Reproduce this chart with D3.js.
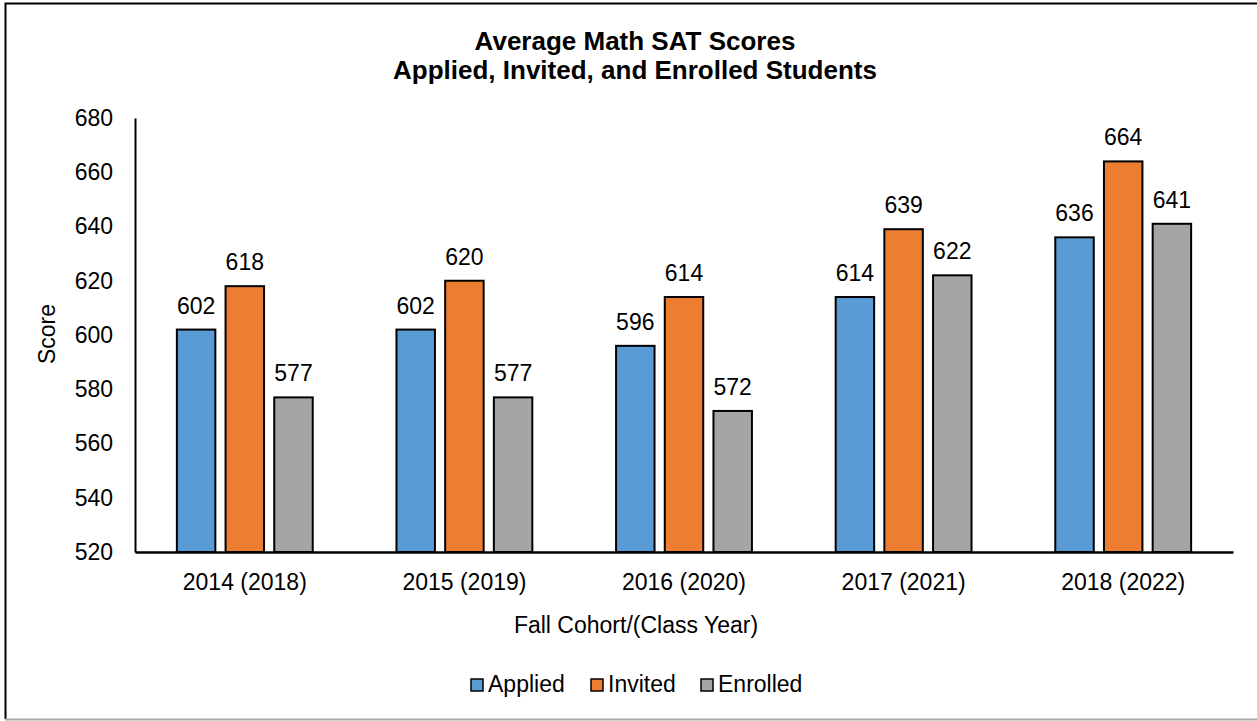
<!DOCTYPE html>
<html>
<head>
<meta charset="utf-8">
<script src="https://cdn.jsdelivr.net/npm/d3@7"></script>
<style>
  body { margin: 0; background: #fff; }
  svg { display: block; font-family: "Liberation Sans", Arial, sans-serif; }
</style>
</head>
<body>
<svg id="chart" width="1257" height="721"></svg>
<script>
const cohorts = ["2014 (2018)", "2015 (2019)", "2016 (2020)", "2017 (2021)", "2018 (2022)"];
const seriesNames = ["Applied", "Invited", "Enrolled"];
const applied = [602, 602, 596, 614, 636];
const invited = [618, 620, 614, 639, 664];
const enrolled = [577, 577, 572, 622, 641];
const yTicks = [520, 540, 560, 580, 600, 620, 640, 660, 680];
const colors = ["#5b9bd5", "#ed7d31", "#a5a5a5"];

const width = 1257, height = 721;
const margin = {top: 118, right: 24, bottom: 169, left: 135};
const innerWidth = width - margin.left - margin.right;
const innerHeight = height - margin.top - margin.bottom;
const fontSize = 23;

const svg = d3.select("#chart");

// outer frame: black top and left, grey bottom, open on the right
svg.append("path")
  .attr("d", `M${width},3.5 H5.5 V719`)
  .attr("fill", "none").attr("stroke", "#000").attr("stroke-width", 2);
svg.append("line")
  .attr("x1", 5).attr("x2", width).attr("y1", 719.5).attr("y2", 719.5)
  .attr("stroke", "#aaa").attr("stroke-width", 2);

const title = svg.append("text")
  .attr("text-anchor", "middle")
  .attr("font-weight", "bold")
  .attr("font-size", 26);
title.append("tspan").attr("x", 635).attr("y", 50).text("Average Math SAT Scores");
title.append("tspan").attr("x", 635).attr("y", 79).text("Applied, Invited, and Enrolled Students");

const g = svg.append("g")
  .attr("transform", `translate(${margin.left}, ${margin.top})`);

const xScale = d3.scaleBand()
  .domain(cohorts)
  .range([0, innerWidth]);

const xInner = d3.scaleBand()
  .domain(seriesNames)
  .range([0, xScale.bandwidth()])
  .paddingInner(0.21)
  .paddingOuter(0.86);

const yScale = d3.scaleLinear()
  .domain([520, 680])
  .range([innerHeight, 0]);

const rows = cohorts.map((c, i) => ({
  cohort: c,
  values: [applied[i], invited[i], enrolled[i]].map((v, j) => ({name: seriesNames[j], value: v, color: colors[j]}))
}));

const groups = g.selectAll(".group")
  .data(rows)
  .enter()
  .append("g")
  .attr("class", "group")
  .attr("transform", d => `translate(${xScale(d.cohort)}, 0)`);

groups.selectAll("rect")
  .data(d => d.values)
  .enter()
  .append("rect")
  .attr("x", d => xInner(d.name))
  .attr("y", d => yScale(d.value))
  .attr("width", xInner.bandwidth())
  .attr("height", d => innerHeight - yScale(d.value))
  .attr("fill", d => d.color)
  .attr("stroke", "#000")
  .attr("stroke-width", 2);

groups.selectAll(".label")
  .data(d => d.values)
  .enter()
  .append("text")
  .attr("class", "label")
  .attr("x", d => xInner(d.name) + xInner.bandwidth() / 2)
  .attr("y", d => yScale(d.value) - 16)
  .attr("text-anchor", "middle")
  .attr("font-size", fontSize)
  .attr("fill", "#000")
  .text(d => d.value);

// y axis
const yAxisG = g.append("g")
  .call(d3.axisLeft(yScale).tickValues(yTicks).tickSize(0).tickPadding(22));
yAxisG.select(".domain").attr("stroke", "#000").attr("stroke-width", 2);
yAxisG.selectAll("text").attr("font-size", fontSize).attr("fill", "#000")
  .attr("font-family", "Liberation Sans, Arial, sans-serif");

// x axis
const xAxisG = g.append("g")
  .attr("transform", `translate(0, ${innerHeight})`)
  .call(d3.axisBottom(xScale).tickSize(0).tickPadding(22));
xAxisG.select(".domain").attr("stroke", "#000").attr("stroke-width", 2.5);
xAxisG.selectAll("text").attr("font-size", fontSize).attr("fill", "#000")
  .attr("font-family", "Liberation Sans, Arial, sans-serif");

svg.append("text")
  .attr("transform", "translate(55, 334) rotate(-90)")
  .attr("text-anchor", "middle")
  .attr("font-size", fontSize)
  .text("Score");

svg.append("text")
  .attr("x", 636)
  .attr("y", 633)
  .attr("text-anchor", "middle")
  .attr("font-size", fontSize)
  .text("Fall Cohort/(Class Year)");

// legend
const legendX = [471, 591, 701];
const legend = svg.append("g");
seriesNames.forEach((name, i) => {
  legend.append("rect")
    .attr("x", legendX[i]).attr("y", 679)
    .attr("width", 12).attr("height", 12)
    .attr("fill", colors[i]).attr("stroke", "#000").attr("stroke-width", 1.5);
  legend.append("text")
    .attr("x", legendX[i] + 17).attr("y", 692)
    .attr("font-size", fontSize)
    .text(name);
});
</script>
</body>
</html>
